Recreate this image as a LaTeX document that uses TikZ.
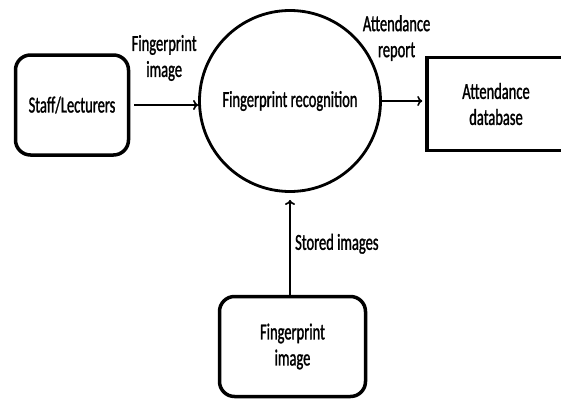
\documentclass[tikz,border=0pt]{standalone}
\usepackage{fontspec}
\setmainfont{Carlito}[FakeStretch=0.63,FakeBold=1.2]
\usepackage{tikz}
\usetikzlibrary{arrows.meta}

\begin{document}
\begin{tikzpicture}[x=1pt,y=1pt,
        font=\fontsize{23}{26}\selectfont,
        entity/.style={draw,line width=3.5pt,rounded corners=15pt,align=center,inner sep=0pt},
        store/.style={draw,line width=3.5pt,align=center,inner sep=0pt},
        process/.style={draw,circle,line width=2.8pt,minimum size=181pt,inner sep=0pt},
        flow/.style={line width=1.6pt,-{To[length=5pt,width=10pt]}}]
        \useasboundingbox (0,0) rectangle (561,400);

        \node[entity,minimum width=113pt,minimum height=100pt] (staff) at (72,295) {Staff/Lecturers};
        \node[process] (rec) at (290,299) {Fingerprint recognition};
        \node[store,minimum width=138pt,minimum height=93pt] (db) at (496,296) {Attendance\\database};
        \node[entity,minimum width=146pt,minimum height=100pt] (fpimg) at (292.5,53.5) {Fingerprint\\image};

        \draw[flow,shorten <=4pt] (staff.east) -- (staff.east -| rec.west)
            node[midway,above=20pt,align=center] {Fingerprint\\image};
        \draw[flow,shorten >=3pt] (rec.east) -- (rec.east -| db.west)
            node[midway,above=36pt,xshift=-7pt,align=center] {Attendance\\report};
        \draw[flow,shorten >=7pt] (fpimg.north -| rec.south) -- (rec.south)
            node[midway,right=1pt] {Stored images};
    \end{tikzpicture}
\end{document}
